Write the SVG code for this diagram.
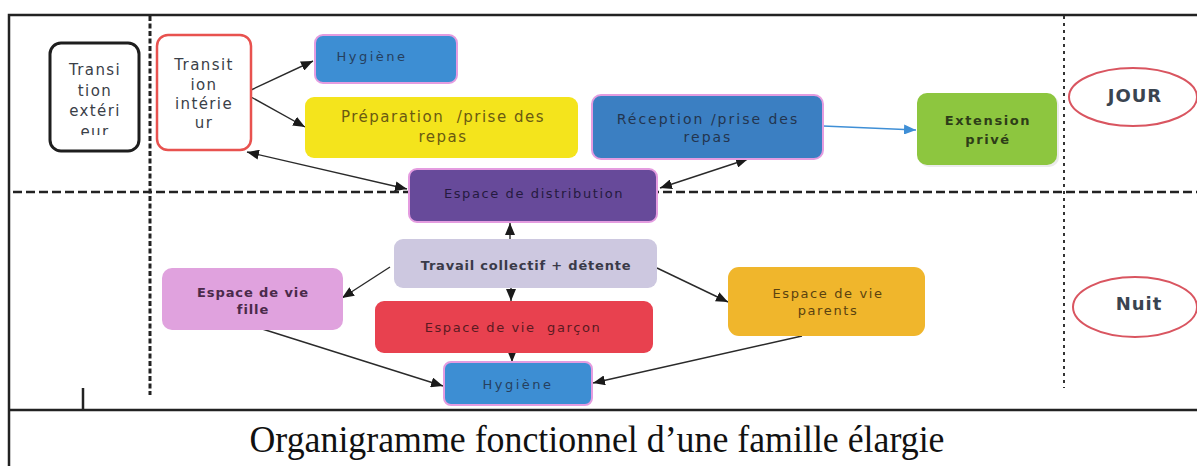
<svg xmlns="http://www.w3.org/2000/svg" width="1197" height="466" viewBox="0 0 1197 466">
<style>
  .lbl{font-family:"DejaVu Sans","Liberation Sans",sans-serif;font-size:13px;text-anchor:middle;fill:#333a44;white-space:pre}
  .tr{font-size:15px;letter-spacing:1.4px;fill:#3a4048}
  .pink{stroke:#e49ce0;stroke-width:2}
  .frame{stroke:#222;stroke-width:2.5;fill:none}
  .dashH{stroke:#222;stroke-width:2.5;stroke-dasharray:9 4;fill:none}
  .dashV{stroke:#222;stroke-width:3;stroke-dasharray:5 2.5;fill:none}
  .dotV{stroke:#333;stroke-width:2;stroke-dasharray:3 4;fill:none}
  .conn{stroke:#2a2a2a;stroke-width:1.4;fill:none}
  .arr{marker-end:url(#ah)}
  .dbl{marker-start:url(#ah);marker-end:url(#ah)}
  .zone{font-size:18px;font-weight:bold;letter-spacing:1px;fill:#3a4450}
</style>
<defs>
  <marker id="ah" markerUnits="userSpaceOnUse" markerWidth="12" markerHeight="10" refX="12" refY="5" orient="auto-start-reverse">
    <path d="M0,0 L12,5 L0,10 z" fill="#1a1a1a"/>
  </marker>
  <marker id="ahb" markerUnits="userSpaceOnUse" markerWidth="12" markerHeight="10" refX="12" refY="5" orient="auto">
    <path d="M0,0 L12,5 L0,10 z" fill="#3f8fd6"/>
  </marker>
  <clipPath id="clipExt"><rect x="50" y="44" width="88" height="91"/></clipPath>
</defs>
<rect width="1197" height="466" fill="#ffffff"/>

<g id="frame">
  <path class="frame" d="M9,466 L9,15 L1197,15"/>
  <path class="frame" d="M9,410 L1197,410"/>
  <path class="frame" d="M83,388 L83,410"/>
  <path class="dashH" d="M13,192 L1197,192"/>
  <path class="dashV" d="M150,16 L150,395"/>
  <path class="dotV" d="M1064,16 L1064,388"/>
</g>

<g id="connectors">
  <path class="conn arr" d="M251,90 L313,61"/>
  <path class="conn arr" d="M251,97 L305,127"/>
  <path class="conn dbl" d="M247,152 L407,189"/>
  <path class="conn dbl" d="M748,159 L660,188"/>
  <path d="M823,126 L916,130" stroke="#3f8fd6" stroke-width="1.6" fill="none" marker-end="url(#ahb)"/>
  <path class="conn arr" d="M510,239 L510,223"/>
  <path class="conn arr" d="M390,267 L342,298"/>
  <path class="conn arr" d="M511,288 L511,301"/>
  <path class="conn arr" d="M657,268 L728,302"/>
  <path class="conn arr" d="M256,327 L443,386"/>
  <path class="conn arr" d="M512,353 L512,362"/>
  <path class="conn arr" d="M802,336 L593,383"/>
</g>

<g id="transition-exterieur">
  <rect x="50" y="43" width="89" height="108" rx="11" fill="#fff" stroke="#1e1e1e" stroke-width="3"/>
  <g clip-path="url(#clipExt)">
    <text class="lbl tr" x="95" y="75">Transi</text>
    <text class="lbl tr" x="95" y="96">tion</text>
    <text class="lbl tr" x="95" y="116">extéri</text>
    <text class="lbl tr" x="95" y="137">eur</text>
  </g>
</g>

<g id="transition-interieur">
  <rect x="157" y="35" width="94" height="115" rx="11" fill="#fff" stroke="#e8524f" stroke-width="2.5"/>
  <text class="lbl tr" x="204" y="70">Transit</text>
  <text class="lbl tr" x="204" y="90">ion</text>
  <text class="lbl tr" x="204" y="109">intérie</text>
  <text class="lbl tr" x="204" y="128">ur</text>
</g>

<g id="hygiene-jour">
  <rect x="315" y="35" width="142" height="48" rx="8" fill="#3d8ed3" class="pink"/>
  <text class="lbl" x="372" y="61" style="letter-spacing:2.5px;fill:#26405e">Hygiène</text>
</g>

<g id="preparation">
  <rect x="305" y="97" width="273" height="61" rx="9" fill="#f4e41c"/>
  <text class="lbl" x="443" y="122" style="font-size:15px;letter-spacing:1.5px;fill:#6a5a12">Préparation  /prise des</text>
  <text class="lbl" x="443" y="142" style="font-size:15px;letter-spacing:1.5px;fill:#6a5a12">repas</text>
</g>

<g id="reception">
  <rect x="592" y="95" width="231" height="64" rx="9" fill="#3b7fc2" class="pink"/>
  <text class="lbl" x="708" y="124" style="font-size:14px;letter-spacing:2px;fill:#23354f">Réception /prise des</text>
  <text class="lbl" x="708" y="142" style="font-size:14px;letter-spacing:2px;fill:#23354f">repas</text>
</g>

<g id="extension">
  <rect x="919" y="95" width="140" height="72" rx="10" fill="#d8d8d8" opacity="0.5"/>
  <rect x="917" y="93" width="140" height="72" rx="10" fill="#8dc63f"/>
  <text class="lbl" x="988" y="125" style="font-weight:bold;letter-spacing:1.6px;fill:#2e3d18">Extension</text>
  <text class="lbl" x="988" y="144" style="font-weight:bold;letter-spacing:1.6px;fill:#2e3d18">privé</text>
</g>

<g id="distribution">
  <rect x="409" y="169" width="248" height="53" rx="8" fill="#674a9a" class="pink"/>
  <text class="lbl" x="534" y="198" style="letter-spacing:1.6px;fill:#251a40">Espace de distribution</text>
</g>

<g id="travail">
  <rect x="394" y="239" width="263" height="49" rx="9" fill="#cdc8e0"/>
  <text class="lbl" x="526" y="270" style="font-weight:bold;letter-spacing:0.8px;fill:#3a3a48">Travail collectif + détente</text>
</g>

<g id="vie-fille">
  <rect x="162" y="268" width="181" height="62" rx="10" fill="#e0a2de"/>
  <text class="lbl" x="253" y="297" style="font-weight:bold;letter-spacing:0.9px;fill:#4a2a4a">Espace de vie</text>
  <text class="lbl" x="253" y="314" style="font-weight:bold;letter-spacing:0.9px;fill:#4a2a4a">fille</text>
</g>

<g id="vie-garcon">
  <rect x="375" y="301" width="278" height="52" rx="9" fill="#e8414f"/>
  <text class="lbl" x="513" y="332" style="letter-spacing:1.6px;fill:#5a1a22">Espace de vie  garçon</text>
</g>

<g id="hygiene-nuit">
  <rect x="444" y="362" width="148" height="43" rx="7" fill="#3d8ed3" class="pink"/>
  <text class="lbl" x="518" y="389" style="letter-spacing:2.5px;fill:#26405e">Hygiène</text>
</g>

<g id="vie-parents">
  <rect x="728" y="267" width="197" height="69" rx="11" fill="#f0b62c"/>
  <text class="lbl" x="828" y="298" style="letter-spacing:1.6px;fill:#5a4210">Espace de vie</text>
  <text class="lbl" x="828" y="315" style="letter-spacing:1.6px;fill:#5a4210">parents</text>
</g>

<g id="jour">
  <ellipse cx="1133" cy="97" rx="64" ry="29" fill="#fff" stroke="#d95560" stroke-width="2"/>
  <text class="lbl zone" x="1135" y="102">JOUR</text>
</g>

<g id="nuit">
  <ellipse cx="1135" cy="307" rx="62" ry="30" fill="#fff" stroke="#d95560" stroke-width="2"/>
  <text class="lbl zone" x="1139" y="310">Nuit</text>
</g>

<text x="597" y="452" text-anchor="middle" font-family="Liberation Serif, serif" font-size="37" fill="#111" textLength="695" lengthAdjust="spacingAndGlyphs">Organigramme fonctionnel d’une famille élargie</text>
</svg>
